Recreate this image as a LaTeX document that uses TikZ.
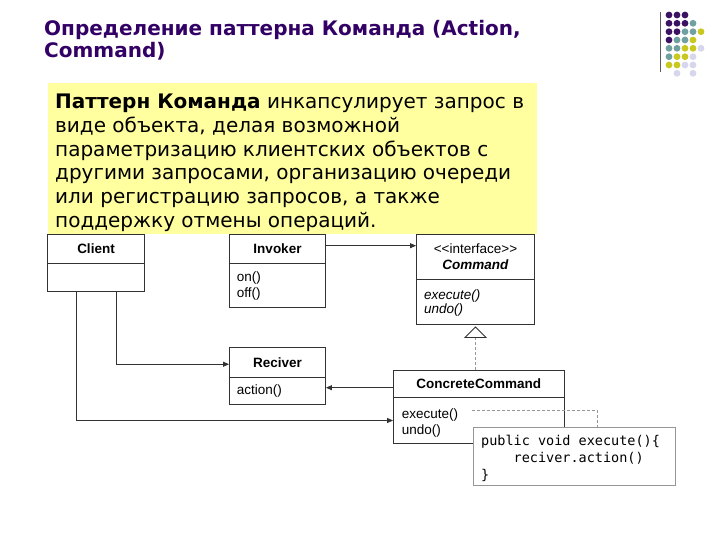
\documentclass[tikz,border=0pt]{standalone}
\usepackage{fontspec}
\setmainfont{DejaVu Sans}
\newfontfamily\umlf{Liberation Sans}
\newfontfamily\notef{DejaVu Sans Mono}
\usetikzlibrary{arrows.meta,calc}
\definecolor{titlepurple}{RGB}{51,0,102}
\definecolor{dotP}{RGB}{60,18,98}
\definecolor{dotT}{RGB}{112,160,160}
\definecolor{dotY}{RGB}{200,200,30}
\definecolor{dotL}{RGB}{214,214,236}
\definecolor{dotN}{RGB}{255,255,255}
\definecolor{defyellow}{RGB}{255,255,160}
\definecolor{umlline}{RGB}{50,50,50}
\definecolor{notegray}{RGB}{150,150,150}
\tikzset{
  x=1pt, y=-1pt,
  umlbox/.style={draw=umlline, line width=0.9pt, fill=white, inner sep=0pt},
  umlhead/.style={umlbox, align=center, font=\umlf\fontsize{13.5}{16.5}\selectfont\bfseries},
  umltext/.style={inner sep=0pt, align=left, anchor=north west, font=\umlf\fontsize{13.5}{16}\selectfont},
  arr/.style={draw=umlline, line width=0.8pt, -{Triangle[length=6pt,width=5pt]}},
  realize/.style={draw=notegray, line width=0.8pt, dash pattern=on 3pt off 2pt,
     -{Triangle[open,length=11.5pt,width=23pt,color=umlline,line width=0.8pt]}},
  notelink/.style={draw=notegray, line width=0.8pt, dash pattern=on 3pt off 2pt},
  notebox/.style={draw=notegray, line width=0.9pt, fill=white, inner sep=0pt},
  notetext/.style={inner sep=0pt, align=left, anchor=north west, font=\notef\fontsize{13.5}{16.7}\selectfont},
  titletext/.style={inner sep=0pt, align=left, anchor=north west, text=titlepurple, font=\fontsize{20}{22.5}\selectfont\bfseries},
  deftext/.style={inner sep=0pt, align=left, anchor=north west, font=\fontsize{20}{23.7}\selectfont},
  dot/.style={circle, inner sep=0pt, minimum size=6.8pt, draw=none}
}
\begin{document}
\begin{tikzpicture}
\useasboundingbox (0,0) rectangle (720,540);
\fill[white] (0,0) rectangle (720,540);

% decoration
\draw[umlline!80, line width=1.1pt] (660.7,11.7) -- (660.7,71.7);
\foreach \c [count=\i] in {P,P,P,N,N}{\node[dot, fill=dot\c] at ({661+8*\i},15) {};}
\foreach \c [count=\i] in {P,P,P,T,N}{\node[dot, fill=dot\c] at ({661+8*\i},23.3) {};}
\foreach \c [count=\i] in {P,P,T,T,Y}{\node[dot, fill=dot\c] at ({661+8*\i},31.7) {};}
\foreach \c [count=\i] in {P,T,T,Y,N}{\node[dot, fill=dot\c] at ({661+8*\i},40) {};}
\foreach \c [count=\i] in {T,T,Y,Y,L}{\node[dot, fill=dot\c] at ({661+8*\i},48.3) {};}
\foreach \c [count=\i] in {T,Y,Y,L,N}{\node[dot, fill=dot\c] at ({661+8*\i},56.7) {};}
\foreach \c [count=\i] in {Y,Y,L,L,N}{\node[dot, fill=dot\c] at ({661+8*\i},65) {};}
\foreach \c [count=\i] in {N,L,N,L,N}{\node[dot, fill=dot\c] at ({661+8*\i},73.3) {};}

% title
\node[titletext] (title) at (44,20) {Определение паттерна Команда (Action,\\Command)};

% definition box
\node[fill=defyellow, inner sep=0pt, minimum width=489.7pt, minimum height=150.6pt, anchor=north west] (defbox) at (47.3,82.7) {};
\node[deftext] (deftxt) at (55,94) {\textbf{Паттерн Команда} инкапсулирует запрос в\\виде объекта, делая возможной\\параметризацию клиентских объектов с\\другими запросами, организацию очереди\\или регистрацию запросов, а также\\поддержку отмены операций.};

% Client
\node[umlhead, minimum width=97pt, minimum height=29pt] (clH) at (96,248.5) {Client};
\node[umlbox, minimum width=97pt, minimum height=28pt] (clB) at (96,277) {};

% Invoker
\node[umlhead, minimum width=96pt, minimum height=29pt] (invH) at (277.5,248.5) {Invoker};
\node[umlbox, minimum width=96pt, minimum height=44.5pt] (invB) at (277.5,285.25) {};
\node[umltext] (invT) at (236.7,271.6) {on()\\off()};

% Reciver
\node[umlhead, minimum width=96pt, minimum height=29.5pt] (recH) at (277.5,362.25) {Reciver};
\node[umlbox, minimum width=96pt, minimum height=27pt] (recB) at (277.5,390.5) {};
\node[umltext] (recT) at (236.7,384.2) {action()};

% Command
\node[umlhead, minimum width=118pt, minimum height=45.5pt] (cmdH) at (475.5,256.75) {{\mdseries <<interface>>}\\\textit{Command}};
\node[umlbox, minimum width=118pt, minimum height=45pt] (cmdB) at (475.5,302) {};
\node[umltext, font=\umlf\fontsize{13.5}{14.5}\selectfont\itshape] (cmdT) at (424,289.2) {execute()\\undo()};

% ConcreteCommand
\node[umlhead, minimum width=170.5pt, minimum height=27.5pt] (ccH) at (478.75,383.75) {ConcreteCommand};
\node[umlbox, minimum width=170.5pt, minimum height=46pt] (ccB) at (478.75,420.5) {};
\node[umltext] (ccT) at (401.7,408.2) {execute()\\undo()};

% connectors
\draw[arr] ([yshift=2.8pt]invH.east) -- ([yshift=2.8pt]invH.east -| cmdH.west);
\draw[arr] ([xshift=20pt]clB.south) |- ([yshift=-2pt]recH.west);
\draw[arr] ([xshift=-20pt]clB.south) |- (ccB.west);
\draw[arr] ([yshift=2.8pt]recB.east -| ccH.west) -- ([yshift=2.8pt]recB.east);
\draw[realize] (ccH.north -| cmdB.south) -- ([yshift=-1.5pt]cmdB.south);

% note
\coordinate (attach) at (472,410.5);
\node[notebox, minimum width=201.5pt, minimum height=58pt] (note) at (574.25,456.5) {};
\draw[notelink] (attach) -| ($(note.north west)+(124.8,0)$);
\node[notetext] (noteT) at (481,435.3) {public void execute()\{\\\ \ \ \ reciver.action()\\\}};
\end{tikzpicture}
\end{document}
